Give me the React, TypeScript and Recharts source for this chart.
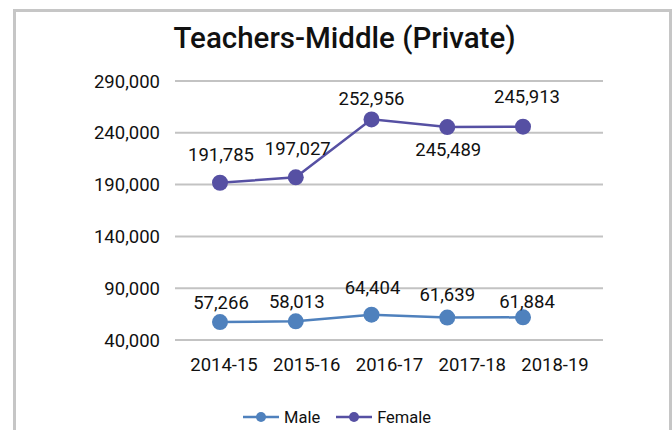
import React from 'react';
import { LineChart, Line, XAxis, YAxis, CartesianGrid, LabelList, Legend } from 'recharts';

const years = ['2014-15', '2015-16', '2016-17', '2017-18', '2018-19'];
const male = [57266, 58013, 64404, 61639, 61884];
const female = [191785, 197027, 252956, 245489, 245913];
const yTicks = [40000, 90000, 140000, 190000, 240000, 290000];

// label placement offsets (presentation only)
const maleLabelDx = [1, 1, 1, 0, 4];
const maleLabelDy = [-19, -19, -27, -23, -15];
const femaleLabelDx = [1, 2, 0, 1, 4];
const femaleLabelDy = [-28, -28, -20, 23, -30];

const data = years.map((year, i) => ({ year, Male: male[i], Female: female[i] }));

const MALE = '#4F81BD';
const FEMALE = '#5650A3';
const FONT = 'Roboto, sans-serif';
const TEXT = '#111111';

const fmt = (v: number) => Number(v).toLocaleString('en-US');

function makeLabel(dxs: number[], dys: number[]) {
  return (props: any) => {
    const { x, y, value, index } = props;
    return (
      <text
        x={x + dxs[index]}
        y={y + dys[index]}
        textAnchor="middle"
        dominantBaseline="central"
        fontSize={18.5}
        fontFamily={FONT}
        fill={TEXT}
      >
        {fmt(value)}
      </text>
    );
  };
}

const LegendContent = () => (
  <div style={{ display: 'flex', alignItems: 'center', height: 24, fontFamily: FONT, fontSize: 16.5, color: TEXT }}>
    {[['Male', MALE], ['Female', FEMALE]].map(([n, c], i) => (
      <div key={n} style={{ display: 'flex', alignItems: 'center', marginLeft: i ? 16 : 0 }}>
        <svg width={36} height={12}>
          <line x1={0} y1={6} x2={36} y2={6} stroke={c} strokeWidth={2.5} />
          <circle cx={18} cy={6} r={5} fill={c} />
        </svg>
        <span style={{ marginLeft: 5 }}>{n}</span>
      </div>
    ))}
  </div>
);

export default function App() {
  return (
    <div style={{ position: 'absolute', left: 0, top: 0, width: 672, height: 430, background: '#fff', overflow: 'hidden' }}>
      <div
        style={{
          position: 'absolute',
          left: 13,
          top: 9,
          width: 659,
          height: 440,
          border: '3px solid #c6c6c6',
          boxSizing: 'border-box',
        }}
      />
      <svg style={{ position: 'absolute', left: 0, top: 0 }} width={672} height={70}>
        <text x={344.5} y={48} textAnchor="middle" fontFamily={FONT} fontSize={29.5} fontWeight={500} fill={TEXT}>
          Teachers-Middle (Private)
        </text>
      </svg>
      <div style={{ position: 'absolute', left: 0, top: 0 }}>
        <LineChart width={672} height={430} data={data} margin={{ top: 81, right: 69, left: 0, bottom: 26 }}>
          <CartesianGrid vertical={false} stroke="#c3c3c3" strokeWidth={2} xAxisId="lbl" />
          <XAxis xAxisId="pts" dataKey="year" hide padding={{ left: 45, right: 80 }} />
          <XAxis
            xAxisId="lbl"
            dataKey="year"
            height={40}
            padding={{ left: 49, right: 48 }}
            axisLine={false}
            tickLine={false}
            tickMargin={12}
            tick={{ fontSize: 18.5, fontFamily: FONT, fill: TEXT }}
          />
          <YAxis
            width={175}
            domain={[40000, 290000]}
            ticks={yTicks}
            interval={0}
            axisLine={false}
            tickLine={false}
            tickMargin={9}
            tickFormatter={fmt}
            tick={{ fontSize: 18.5, fontFamily: FONT, fill: TEXT }}
          />
          <Legend
            verticalAlign="bottom"
            content={<LegendContent />}
            wrapperStyle={{ position: 'absolute', left: 243, top: 405, width: 'auto' }}
          />
          <Line
            xAxisId="pts"
            dataKey="Male"
            stroke={MALE}
            strokeWidth={2.5}
            dot={{ r: 8, fill: MALE, stroke: 'none' }}
            activeDot={false}
            isAnimationActive={false}
          >
            <LabelList dataKey="Male" content={makeLabel(maleLabelDx, maleLabelDy)} />
          </Line>
          <Line
            xAxisId="pts"
            dataKey="Female"
            stroke={FEMALE}
            strokeWidth={2.5}
            dot={{ r: 8, fill: FEMALE, stroke: 'none' }}
            activeDot={false}
            isAnimationActive={false}
          >
            <LabelList dataKey="Female" content={makeLabel(femaleLabelDx, femaleLabelDy)} />
          </Line>
        </LineChart>
      </div>
    </div>
  );
}
